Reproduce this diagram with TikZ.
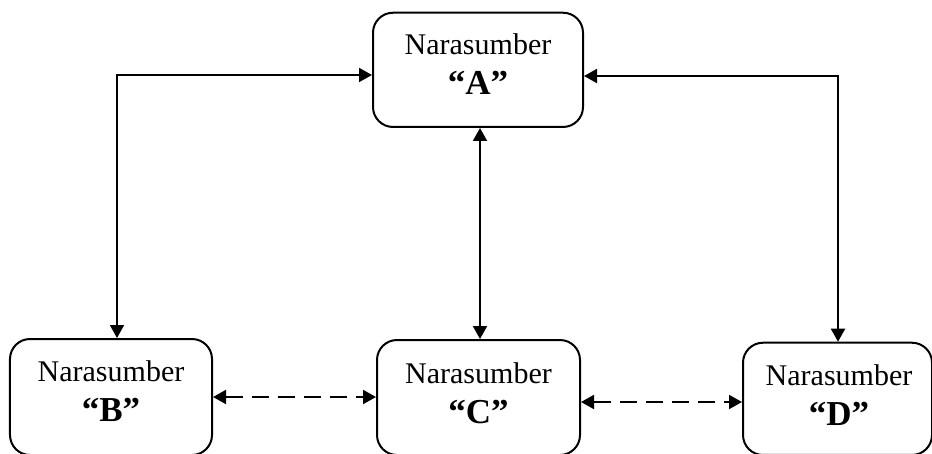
\documentclass[tikz,border=0pt]{standalone}
\usepackage{fontspec}
\setmainfont{Liberation Serif}
\usetikzlibrary{arrows.meta}
\begin{document}
\begin{tikzpicture}[x={(0.4pt,0)},y={(0,-0.4pt)},
  box/.style={draw,rounded corners=8pt,line width=0.8pt,inner sep=0pt},
  txt/.style={align=center,inner sep=0pt,font=\fontsize{12}{16}\selectfont},
  conn/.style={line width=0.8pt,{Triangle[length=5.2pt,width=5.6pt]}-{Triangle[length=5.2pt,width=5.6pt]}},
  dconn/.style={conn,dash pattern=on 7pt off 3.4pt}]
\useasboundingbox (0,0) rectangle (932,453);
\node[box,minimum width=84pt,minimum height=45.7pt] (A) at (478,69.85) {};
\node[box,minimum width=80.8pt,minimum height=46.4pt] (B) at (111,397) {};
\node[box,minimum width=81.2pt,minimum height=46pt] (C) at (478.5,397.5) {};
\node[box,minimum width=75.6pt,minimum height=44.9pt] (D) at (837.5,398.85) {};
\node[txt] (tA) at (478,64) {Narasumber\\{\fontsize{14}{16}\selectfont\bfseries “A”}};
\node[txt] (tB) at (111,391) {Narasumber\\{\fontsize{14}{16}\selectfont\bfseries “B”}};
\node[txt] (tC) at (478.5,393.5) {Narasumber\\{\fontsize{14}{16}\selectfont\bfseries “C”}};
\node[txt] (tD) at (839,395) {Narasumber\\{\fontsize{14}{16}\selectfont\bfseries “D”}};
\coordinate (lc) at (117,75);
\coordinate (rc) at (838,76);
\coordinate (mc) at (480,200);
\coordinate (d1) at (300,397);
\coordinate (d2) at (660,402);
\draw[conn] (B.north -| lc) |- (A.west |- lc);
\draw[conn] (D.north -| rc) |- (A.east |- rc);
\draw[conn] (A.south -| mc) -- (C.north -| mc);
\draw[dconn] (B.east |- d1) -- (C.west |- d1);
\draw[dconn] (C.east |- d2) -- (D.west |- d2);
\end{tikzpicture}
\end{document}
